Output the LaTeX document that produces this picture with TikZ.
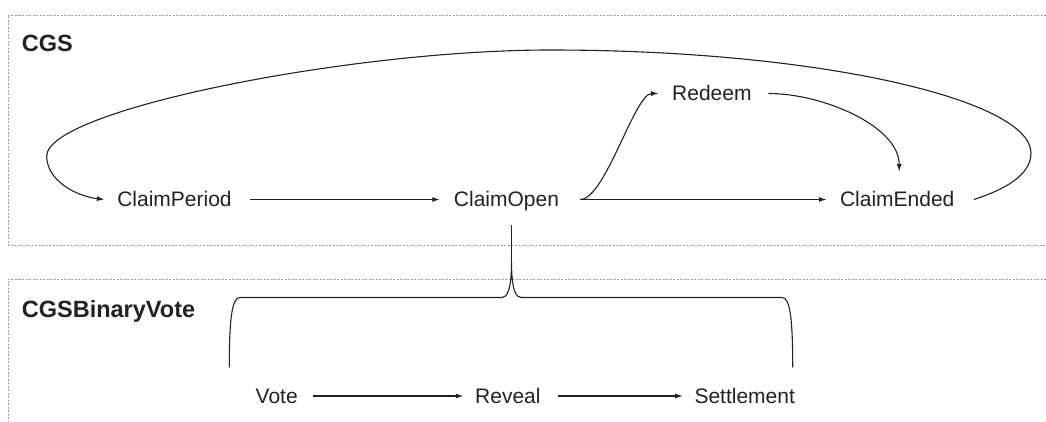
\documentclass[tikz,border=0pt]{standalone}
\usepackage{fontspec}
\setmainfont{Liberation Sans}
\usetikzlibrary{arrows.meta}
\definecolor{ink}{HTML}{222222}
\begin{document}
\begin{tikzpicture}[x=1pt,y=-1pt,
  lab/.style={font=\fontsize{21}{25}\selectfont, text=ink, inner sep=0pt, text height=15pt, text depth=0pt},
  ttl/.style={font=\bfseries\fontsize{23.5}{28}\selectfont, text=ink, anchor=west, inner sep=0pt, text height=16.8pt, text depth=0pt},
  conn/.style={draw=ink, line width=1.1pt},
  arr/.style={conn, -{Latex[length=7.5pt,width=5pt]}},
  frame/.style={draw=gray!75, line width=0.9pt, dash pattern=on 2pt off 1.5pt}]
\useasboundingbox (0,0) rectangle (1046,422);
\fill[white] (0,0) rectangle (1046,422);
% frames
\draw[frame] (1046,15) -- (8,15) -- (8,245) -- (1046,245);
\draw[frame] (1046,279) -- (8,279) -- (8,422);
% titles
\node[ttl] (cgs) at (21.7,43.3) {CGS};
\node[ttl] (cgsbv) at (21.7,309) {CGSBinaryVote};
% states
\node[lab] (cp) at (174.5,199.5) {ClaimPeriod};
\node[lab] (co) at (506.5,199.5) {ClaimOpen};
\node[lab] (ce) at (897.2,199.5) {ClaimEnded};
\node[lab] (rd) at (711.9,93.5) {Redeem};
\node[lab] (vt) at (276.7,396) {Vote};
\node[lab] (rv) at (507.9,396) {Reveal};
\node[lab] (st) at (744.7,396) {Settlement};
% connectors
\draw[arr] ([xshift=17.7pt]cp.east) -- ([xshift=-14pt]co.west);
\draw[arr] ([xshift=21pt]co.east) -- ([xshift=-13.3pt]ce.west);
\draw[arr] ([xshift=21pt]co.east) .. controls +(25,0) and +(-24,0) .. ([xshift=-13.4pt]rd.west);
\draw[arr] ([xshift=16.7pt]rd.east) .. controls +(55,0) and +(0,-45) .. ([xshift=2pt,yshift=20.3pt]ce.north);
\draw[arr] ([xshift=19.3pt]ce.east) .. controls +(31,-10) and (1031,175) .. (1031,153)
   .. controls (1031,100) and (820,50) .. (550,50)
   .. controls (350,50) and (46.7,110) .. (46.7,156)
   .. controls (46.7,180) and (75,196) .. ([xshift=-12.7pt]cp.west);
\draw[arr] ([xshift=15pt]vt.east) -- ([xshift=-11.7pt]rv.west);
\draw[arr] ([xshift=17.6pt]rv.east) -- ([xshift=-11.6pt]st.west);
% brace from ClaimOpen to the CGSBinaryVote states
\coordinate (pk) at (511.5,262);
\coordinate (bl) at (229.3,367.3);
\coordinate (br) at (792.7,367.3);
\draw[conn] ([xshift=5pt,yshift=-18pt]co.south) -- (pk);
\draw[conn] (bl) .. controls (229.3,318) and (232,297.5) .. (240,297.5) -- (502,297.5)
   .. controls (507,297.5) and (511.5,290) .. (pk)
   .. controls (511.5,290) and (516,297.5) .. (521,297.5) -- (782,297.5)
   .. controls (790,297.5) and (792.7,318) .. (br);
\end{tikzpicture}
\end{document}
